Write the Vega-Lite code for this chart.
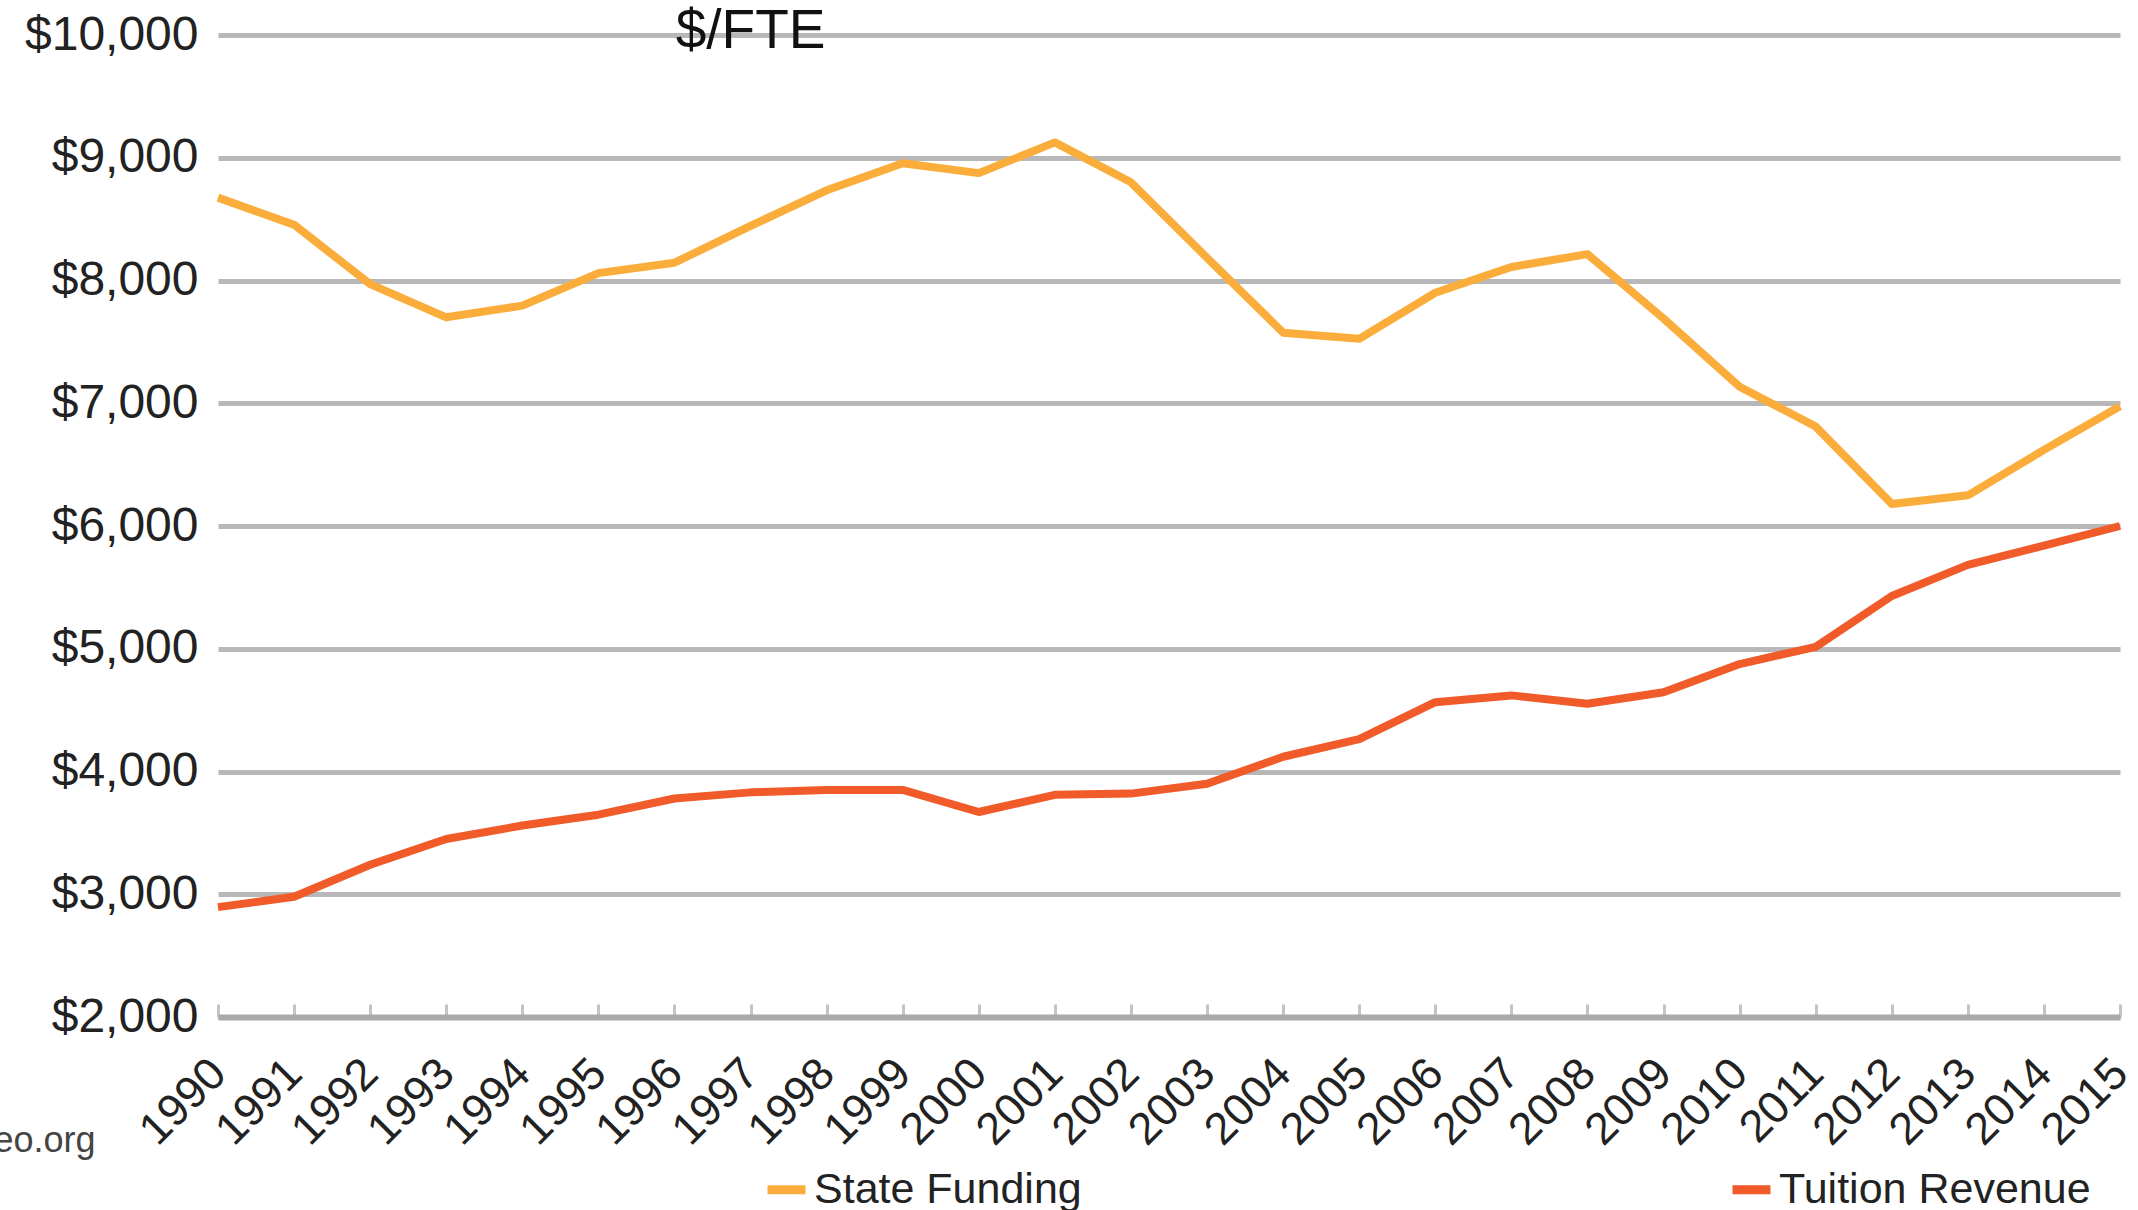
{
  "$schema": "https://vega.github.io/schema/vega-lite/v6.json",
  "width": 1902,
  "height": 982,
  "autosize": "none",
  "padding": {"left": 218, "top": 35, "right": 18, "bottom": 193},
  "background": "white",
  "config": {"font": "Liberation Sans", "view": {"stroke": null}},
  "datasets": {
    "series": [
      {"year": 1990, "series": "State Funding", "value": 8675},
      {"year": 1991, "series": "State Funding", "value": 8455},
      {"year": 1992, "series": "State Funding", "value": 7970},
      {"year": 1993, "series": "State Funding", "value": 7700},
      {"year": 1994, "series": "State Funding", "value": 7795},
      {"year": 1995, "series": "State Funding", "value": 8060},
      {"year": 1996, "series": "State Funding", "value": 8145},
      {"year": 1997, "series": "State Funding", "value": 8445},
      {"year": 1998, "series": "State Funding", "value": 8735},
      {"year": 1999, "series": "State Funding", "value": 8955},
      {"year": 2000, "series": "State Funding", "value": 8875},
      {"year": 2001, "series": "State Funding", "value": 9125},
      {"year": 2002, "series": "State Funding", "value": 8800},
      {"year": 2003, "series": "State Funding", "value": 8185},
      {"year": 2004, "series": "State Funding", "value": 7575},
      {"year": 2005, "series": "State Funding", "value": 7525},
      {"year": 2006, "series": "State Funding", "value": 7900},
      {"year": 2007, "series": "State Funding", "value": 8110},
      {"year": 2008, "series": "State Funding", "value": 8215},
      {"year": 2009, "series": "State Funding", "value": 7690},
      {"year": 2010, "series": "State Funding", "value": 7135},
      {"year": 2011, "series": "State Funding", "value": 6810},
      {"year": 2012, "series": "State Funding", "value": 6180},
      {"year": 2013, "series": "State Funding", "value": 6250},
      {"year": 2014, "series": "State Funding", "value": 6620},
      {"year": 2015, "series": "State Funding", "value": 6975},
      {"year": 1990, "series": "Tuition Revenue", "value": 2895},
      {"year": 1991, "series": "Tuition Revenue", "value": 2980},
      {"year": 1992, "series": "Tuition Revenue", "value": 3240},
      {"year": 1993, "series": "Tuition Revenue", "value": 3450},
      {"year": 1994, "series": "Tuition Revenue", "value": 3560},
      {"year": 1995, "series": "Tuition Revenue", "value": 3648},
      {"year": 1996, "series": "Tuition Revenue", "value": 3780},
      {"year": 1997, "series": "Tuition Revenue", "value": 3830},
      {"year": 1998, "series": "Tuition Revenue", "value": 3850},
      {"year": 1999, "series": "Tuition Revenue", "value": 3850},
      {"year": 2000, "series": "Tuition Revenue", "value": 3670},
      {"year": 2001, "series": "Tuition Revenue", "value": 3810},
      {"year": 2002, "series": "Tuition Revenue", "value": 3820},
      {"year": 2003, "series": "Tuition Revenue", "value": 3900},
      {"year": 2004, "series": "Tuition Revenue", "value": 4120},
      {"year": 2005, "series": "Tuition Revenue", "value": 4263},
      {"year": 2006, "series": "Tuition Revenue", "value": 4565},
      {"year": 2007, "series": "Tuition Revenue", "value": 4620},
      {"year": 2008, "series": "Tuition Revenue", "value": 4552},
      {"year": 2009, "series": "Tuition Revenue", "value": 4645},
      {"year": 2010, "series": "Tuition Revenue", "value": 4875},
      {"year": 2011, "series": "Tuition Revenue", "value": 5015},
      {"year": 2012, "series": "Tuition Revenue", "value": 5430},
      {"year": 2013, "series": "Tuition Revenue", "value": 5683},
      {"year": 2014, "series": "Tuition Revenue", "value": 5840},
      {"year": 2015, "series": "Tuition Revenue", "value": 6000}
    ],
    "heading": [{"label": "$/FTE"}]
  },
  "layer": [
    {
      "data": {"name": "series"},
      "mark": {"type": "line", "strokeWidth": 8, "strokeJoin": "round"},
      "encoding": {
        "x": {
          "field": "year", "type": "quantitative",
          "scale": {"domain": [1990, 2015], "nice": false, "zero": false},
          "axis": {
            "values": [1990, 1991, 1992, 1993, 1994, 1995, 1996, 1997, 1998, 1999, 2000, 2001, 2002, 2003, 2004, 2005, 2006, 2007, 2008, 2009, 2010, 2011, 2012, 2013, 2014, 2015],
            "format": "d",
            "grid": false,
            "domainColor": "#a9a9a9", "domainWidth": 6,
            "tickColor": "#c4c4c4", "tickWidth": 3, "tickSize": -13,
            "labelAngle": -45, "labelAlign": "right", "labelBaseline": "middle",
            "labelFontSize": 45, "labelColor": "#222222", "labelPadding": 62,
            "labelOverlap": false, "labelFlush": false,
            "title": "sheeo.org", "titleX": -123, "titleY": 123,
            "titleAlign": "right", "titleBaseline": "middle", "titleAnchor": null,
            "titleFontSize": 36, "titleFontWeight": "normal", "titleColor": "#444444"
          }
        },
        "y": {
          "field": "value", "type": "quantitative",
          "scale": {"domain": [2000, 10000], "nice": false, "zero": false},
          "axis": {
            "values": [2000, 3000, 4000, 5000, 6000, 7000, 8000, 9000, 10000],
            "format": "$,.0f",
            "domain": false, "ticks": false,
            "gridColor": "#b8b8b8", "gridWidth": 5,
            "labelFontSize": 48, "labelColor": "#222222", "labelPadding": 20,
            "title": null
          }
        },
        "color": {
          "field": "series", "type": "nominal",
          "scale": {"domain": ["State Funding", "Tuition Revenue"], "range": ["#fbad3c", "#f15a29"]},
          "legend": {
            "orient": "none", "legendX": 545, "legendY": 1131,
            "direction": "horizontal", "title": null,
            "symbolType": "stroke", "symbolStrokeWidth": 9, "symbolSize": 1444,
            "labelFontSize": 43, "labelColor": "#222222", "labelOffset": 4,
            "columnPadding": 632, "labelLimit": 0
          }
        }
      }
    },
    {
      "data": {"name": "heading"},
      "mark": {"type": "text", "fontSize": 55, "color": "#111111", "align": "center", "baseline": "alphabetic", "dy": 13},
      "encoding": {
        "text": {"field": "label"},
        "x": {"datum": 1997},
        "y": {"datum": 10000}
      }
    }
  ]
}
